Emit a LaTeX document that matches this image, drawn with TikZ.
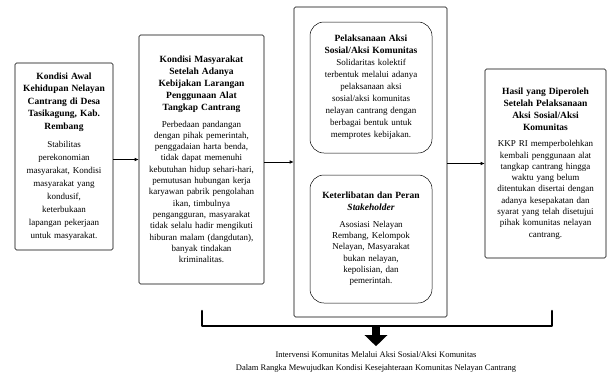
\documentclass[tikz,border=0pt]{standalone}
\usepackage{fontspec}
\setmainfont{Liberation Serif}
\usepackage{tikz}
\usetikzlibrary{positioning,arrows.meta}
\newcommand{\titre}[2][12]{{\bfseries\fontsize{9.5}{#1}\selectfont #2\par}}

\begin{document}
\begin{tikzpicture}[x=1pt,y=-1pt]
        \tikzset{
          boite/.style={
            draw,align=center,line width=0.6pt,rounded corners=1.5pt,
            font=\fontsize{9}{11.3}\selectfont,text=black,inner sep=3pt,
          },
          boite coins ronds/.style={boite,rounded corners=14pt,line width=0.5pt},
          fleche/.style={-{Latex[length=4pt,width=3.5pt]},line width=0.6pt},
          accolade/.style={line width=2.6pt,line cap=round,line join=round},
          grosse fleche/.style={line width=8pt,-{Triangle[length=11pt,width=22pt]},shorten >=5pt},
          }
        \useasboundingbox (0,0) rectangle (608,376);
        % boites principales
        \node[boite, font=\fontsize{9}{13}\selectfont, text width=92pt, minimum width=98pt, minimum height=187pt] (a) at (64,156.5)
          {\titre[12.5]{Kondisi Awal\\Kehidupan Nelayan\\Cantrang di Desa\\Tasikagung, Kab.\\Rembang}\vspace{5pt}
           Stabilitas\\perekonomian\\masyarakat, Kondisi\\masyarakat yang\\kondusif,\\keterbukaan\\lapangan pekerjaan\\untuk masyarakat.};
        \node[boite, text width=119pt, minimum width=125pt, minimum height=249pt] (b) at (201.5,159.5)
          {\titre{Kondisi Masyarakat\\Setelah Adanya\\Kebijakan Larangan\\Penggunaan Alat\\Tangkap Cantrang}\vspace{5pt}
           Perbedaan pandangan\\dengan pihak pemerintah,\\penggadaian harta benda,\\tidak dapat memenuhi\\kebutuhan hidup sehari-hari,\\pemutusan hubungan kerja\\karyawan pabrik pengolahan\\ikan, timbulnya\\pengangguran, masyarakat\\tidak selalu hadir mengikuti\\hiburan malam (dangdutan),\\banyak tindakan\\kriminalitas.};
        \node[boite, minimum width=153pt, minimum height=310pt] (m) at (370.5,162) {};
        \node[boite coins ronds, font=\fontsize{9}{12}\selectfont, text width=116pt, minimum width=122pt, minimum height=131pt] (m1) at (371,87.5)
          {\titre{Pelaksanaan Aksi\\Sosial/Aksi Komunitas}
           Solidaritas kolektif\\terbentuk melalui adanya\\pelaksanaan aksi\\sosial/aksi komunitas\\nelayan cantrang dengan\\berbagai bentuk untuk\\memprotes kebijakan.};
        \node[boite coins ronds, text width=116pt, minimum width=122pt, minimum height=128pt] (m2) at (371,239)
          {\titre{Keterlibatan dan Peran\\\textit{Stakeholder}}\vspace{5pt}
           Asosiasi Nelayan\\Rembang, Kelompok\\Nelayan, Masyarakat\\bukan nelayan,\\kepolisian, dan\\pemerintah.};
        \node[boite, text width=115pt, minimum width=121pt, minimum height=189pt] (d) at (545.5,163.5)
          {\titre{Hasil yang Diperoleh\\Setelah Pelaksanaan\\Aksi Sosial/Aksi\\Komunitas}\vspace{5pt}
           KKP RI memperbolehkan\\kembali penggunaan alat\\tangkap cantrang hingga\\waktu yang belum\\ditentukan disertai dengan\\adanya kesepakatan dan\\syarat yang telah disetujui\\pihak komunitas nelayan\\cantrang.};
        \node[align=center, font=\fontsize{8.5}{13.5}\selectfont, inner sep=0pt] (h) at (376,362)
          {Intervensi Komunitas Melalui Aksi Sosial/Aksi Komunitas\\Dalam Rangka Mewujudkan Kondisi Kesejahteraan Komunitas Nelayan Cantrang};

        \draw[fleche] (a.east |- b.west) -- (b.west);
        \draw[fleche] (b.east |- m.west) -- (m.west);
        \draw[fleche] (m.east |- d.west) -- (d.west);

        % accolade du bas
        \coordinate (g) at (202,311);
        \coordinate (k) at (552,311);
        \coordinate (brk) at (376,326);
        \draw[accolade] (g) |- (brk) -| (k);
        \draw[grosse fleche] (brk) -- (h.north);
      \end{tikzpicture}
\end{document}
